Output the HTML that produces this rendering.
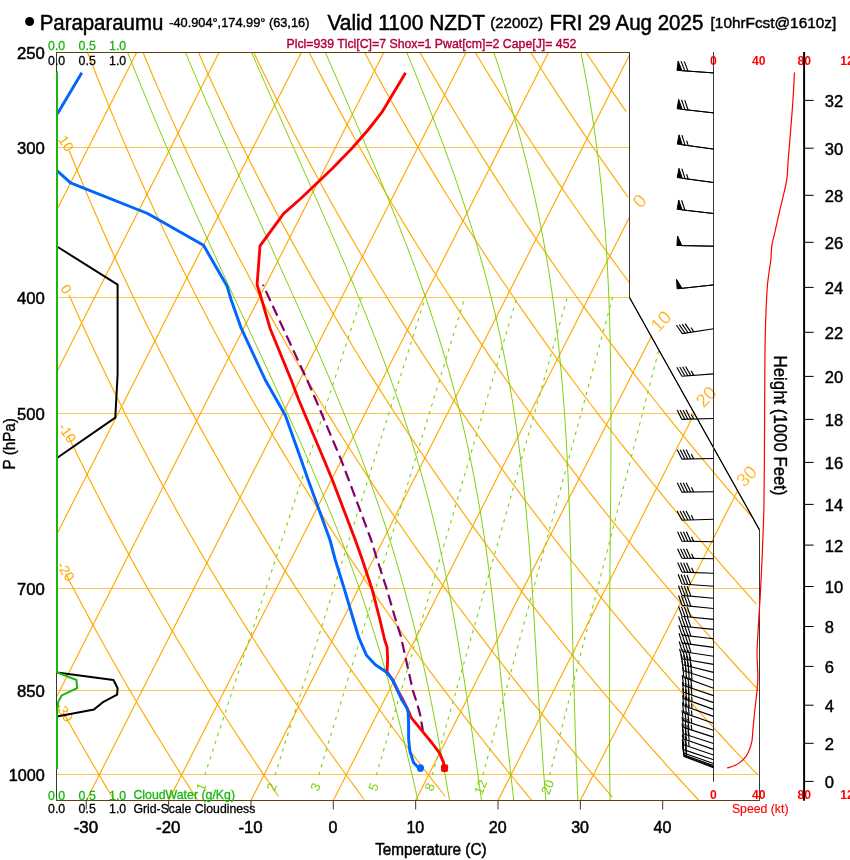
<!DOCTYPE html>
<html lang="en"><head><meta charset="utf-8"><title>Paraparaumu SkewT</title>
<style>
html,body{margin:0;padding:0;background:#fff;overflow:hidden}
svg{display:block}
text{font-family:"Liberation Sans", sans-serif}
.thin{stroke:#fff;stroke-width:.2px;paint-order:fill stroke}
.thin2{stroke:#fff;stroke-width:.3px;paint-order:fill stroke}
</style>
</head><body>
<svg width="850" height="860" viewBox="0 0 850 860">
<defs><clipPath id="plotclip"><polygon points="56.5,52.5 629.5,52.5 629.5,297.48 759.5,529.89 759.5,800.5 56.5,800.5"/></clipPath><clipPath id="plotclip2"><polygon points="56,52.5 629.5,52.5 629.5,297.48 759.5,529.89 759.5,800.5 56,800.5"/></clipPath></defs>
<rect width="850" height="860" fill="#fff"/>
<g id="bg" clip-path="url(#plotclip)">
<line x1="57.64" y1="208.15" x2="147.47" y2="31.22" stroke="#FFAA00" stroke-width="1.15" />
<line x1="53.65" y1="378.2" x2="229.82" y2="31.22" stroke="#FFAA00" stroke-width="1.15" />
<line x1="49.31" y1="548.93" x2="312.17" y2="31.22" stroke="#FFAA00" stroke-width="1.15" />
<line x1="44.72" y1="720.15" x2="394.52" y2="31.22" stroke="#FFAA00" stroke-width="1.15" />
<line x1="86.27" y1="800.5" x2="476.86" y2="31.22" stroke="#FFAA00" stroke-width="1.15" />
<line x1="168.62" y1="800.5" x2="559.21" y2="31.22" stroke="#FFAA00" stroke-width="1.15" />
<line x1="250.97" y1="800.5" x2="629.7" y2="54.58" stroke="#FFAA00" stroke-width="1.15" />
<line x1="333.31" y1="800.5" x2="630.17" y2="215.83" stroke="#FFAA00" stroke-width="1.15" />
<line x1="415.66" y1="800.5" x2="651.92" y2="335.17" stroke="#FFAA00" stroke-width="1.15" />
<line x1="498.01" y1="800.5" x2="694.36" y2="413.78" stroke="#FFAA00" stroke-width="1.15" />
<line x1="580.36" y1="800.5" x2="737.43" y2="491.14" stroke="#FFAA00" stroke-width="1.15" />
<line x1="56.5" y1="774.5" x2="759.5" y2="774.5" stroke="#FFAA00" stroke-width="0.7" />
<line x1="56.5" y1="690.5" x2="759.5" y2="690.5" stroke="#FFAA00" stroke-width="0.7" />
<line x1="56.5" y1="588.5" x2="759.5" y2="588.5" stroke="#FFAA00" stroke-width="0.7" />
<line x1="56.5" y1="413.5" x2="694.38" y2="413.5" stroke="#FFAA00" stroke-width="0.7" />
<line x1="56.5" y1="297.5" x2="629.88" y2="297.5" stroke="#FFAA00" stroke-width="0.7" />
<line x1="56.5" y1="147.5" x2="629.88" y2="147.5" stroke="#FFAA00" stroke-width="0.7" />
<polyline points="64.39,714.33 67.63,720.15 70.86,725.91 74.07,731.61 77.26,737.24 80.44,742.82 83.6,748.33 86.75,753.79 89.88,759.19 93,764.54 96.1,769.83 99.18,775.07 102.26,780.26 105.32,785.39 108.36,790.48 111.39,795.51 114.41,800.5" fill="none" stroke="#FFAA00" stroke-width="1.15" />
<polyline points="65.89,574.05 69.84,581.66 73.76,589.16 77.66,596.56 81.53,603.85 85.38,611.03 89.21,618.13 93.02,625.12 96.8,632.03 100.56,638.84 104.29,645.57 108.01,652.21 111.7,658.76 115.38,665.24 119.03,671.63 122.66,677.95 126.27,684.19 129.86,690.36 133.44,696.46 136.99,702.48 140.52,708.44 144.04,714.33 147.54,720.15 151.01,725.91 154.47,731.61 157.92,737.24 161.34,742.82 164.75,748.33 168.14,753.79 171.51,759.19 174.87,764.54 178.21,769.83 181.53,775.07 184.84,780.26 188.13,785.39 191.41,790.48 194.67,795.51 197.91,800.5" fill="none" stroke="#FFAA00" stroke-width="1.15" />
<polyline points="68.26,436.23 73.03,446.12 77.77,455.83 82.46,465.35 87.12,474.71 91.75,483.91 96.34,492.94 100.9,501.82 105.42,510.55 109.91,519.14 114.37,527.58 118.8,535.9 123.2,544.08 127.57,552.14 131.9,560.07 136.21,567.88 140.49,575.58 144.74,583.17 148.96,590.65 153.16,598.02 157.33,605.29 161.47,612.46 165.58,619.53 169.67,626.51 173.74,633.4 177.78,640.19 181.79,646.9 185.78,653.52 189.75,660.06 193.69,666.52 197.61,672.9 201.51,679.2 205.39,685.43 209.24,691.59 213.07,697.67 216.88,703.68 220.67,709.62 224.44,715.5 228.19,721.31 231.91,727.06 235.62,732.74 239.31,738.36 242.98,743.93 246.62,749.43 250.25,754.88 253.87,760.27 257.46,765.6 261.03,770.88 264.59,776.11 268.13,781.29 271.65,786.41 275.15,791.49 278.64,796.51" fill="none" stroke="#FFAA00" stroke-width="1.15" />
<polyline points="69.02,294.86 74.76,307.8 80.45,320.42 86.08,332.74 91.67,344.78 97.2,356.55 102.68,368.05 108.11,379.31 113.5,390.33 118.83,401.12 124.12,411.7 129.37,422.06 134.57,432.22 139.73,442.19 144.85,451.96 149.92,461.56 154.96,470.99 159.95,480.25 164.91,489.34 169.82,498.28 174.7,507.07 179.55,515.72 184.35,524.22 189.12,532.59 193.86,540.82 198.56,548.93 203.23,556.91 207.86,564.77 212.47,572.52 217.04,580.15 221.58,587.67 226.09,595.09 230.57,602.4 235.02,609.6 239.44,616.72 243.83,623.73 248.19,630.65 252.52,637.48 256.83,644.23 261.11,650.88 265.37,657.46 269.6,663.95 273.8,670.36 277.98,676.69 282.13,682.95 286.26,689.13 290.36,695.24 294.44,701.28 298.5,707.25 302.53,713.16 306.54,718.99 310.53,724.77 314.5,730.47 318.44,736.12 322.36,741.71 326.27,747.24 330.15,752.71 334.01,758.12 337.85,763.47 341.67,768.78 345.47,774.03 349.25,779.22 353.01,784.37 356.75,789.46 360.48,794.51 364.18,799.51" fill="none" stroke="#FFAA00" stroke-width="1.15" />
<polyline points="69.35,150.99 76.22,167.97 83.02,184.42 89.74,200.36 96.39,215.83 102.96,230.85 109.46,245.45 115.89,259.65 122.25,273.48 128.55,286.95 134.78,300.08 140.95,312.88 147.05,325.38 153.1,337.59 159.08,349.52 165.01,361.18 170.89,372.59 176.71,383.75 182.47,394.67 188.18,405.38 193.84,415.87 199.45,426.15 205.02,436.23 210.53,446.12 216,455.83 221.42,465.35 226.79,474.71 232.13,483.91 237.41,492.94 242.66,501.82 247.87,510.55 253.03,519.14 258.16,527.58 263.24,535.9 268.29,544.08 273.3,552.14 278.27,560.07 283.21,567.88 288.11,575.58 292.98,583.17 297.81,590.65 302.61,598.02 307.37,605.29 312.1,612.46 316.81,619.53 321.48,626.51 326.11,633.4 330.72,640.19 335.3,646.9 339.85,653.52 344.37,660.06 348.87,666.52 353.33,672.9 357.77,679.2 362.18,685.43 366.56,691.59 370.92,697.67 375.25,703.68 379.56,709.62 383.84,715.5 388.09,721.31 392.33,727.06 396.53,732.74 400.72,738.36 404.88,743.93 409.02,749.43 413.13,754.88 417.23,760.27 421.3,765.6 425.35,770.88 429.38,776.11 433.38,781.29 437.37,786.41 441.34,791.49 445.28,796.51" fill="none" stroke="#FFAA00" stroke-width="1.15" />
<polyline points="71.45,9.04 79.61,31.22 87.65,52.5 95.59,72.94 103.42,92.61 111.15,111.57 118.79,129.86 126.32,147.53 133.76,164.62 141.11,181.17 148.37,197.21 155.55,212.77 162.64,227.88 169.65,242.56 176.57,256.84 183.42,270.74 190.2,284.28 196.9,297.48 203.53,310.35 210.09,322.91 216.58,335.17 223.01,347.15 229.37,358.87 235.66,370.32 241.9,381.53 248.08,392.51 254.19,403.25 260.25,413.78 266.26,424.11 272.21,434.23 278.1,444.16 283.95,453.9 289.74,463.46 295.49,472.85 301.18,482.08 306.83,491.14 312.43,500.05 317.98,508.82 323.49,517.43 328.96,525.91 334.38,534.25 339.76,542.45 345.1,550.54 350.4,558.49 355.66,566.33 360.88,574.05 366.06,581.66 371.21,589.16 376.31,596.56 381.38,603.85 386.42,611.03 391.42,618.13 396.39,625.12 401.32,632.03 406.22,638.84 411.09,645.57 415.92,652.21 420.73,658.76 425.5,665.24 430.24,671.63 434.96,677.95 439.64,684.19 444.29,690.36 448.92,696.46 453.52,702.48 458.09,708.44 462.63,714.33 467.15,720.15 471.64,725.91 476.1,731.61 480.54,737.24 484.95,742.82 489.34,748.33 493.7,753.79 498.04,759.19 502.36,764.54 506.65,769.83 510.92,775.07 515.17,780.26 519.39,785.39 523.59,790.48 527.77,795.51 531.93,800.5" fill="none" stroke="#FFAA00" stroke-width="1.15" />
<polyline points="128.2,15.79 136.98,37.7 145.63,58.72 154.15,78.92 162.56,98.37 170.85,117.12 179.02,135.22 187.09,152.72 195.05,169.64 202.91,186.03 210.66,201.93 218.32,217.35 225.89,232.33 233.36,246.89 240.75,261.05 248.05,274.84 255.26,288.27 262.39,301.37 269.45,314.15 276.43,326.62 283.33,338.8 290.16,350.7 296.92,362.33 303.61,373.71 310.23,384.85 316.79,395.75 323.28,406.44 329.72,416.9 336.09,427.16 342.4,437.23 348.65,447.1 354.84,456.79 360.98,466.3 367.07,475.64 373.1,484.82 379.08,493.83 385.01,502.7 390.9,511.41 396.73,519.99 402.51,528.42 408.25,536.72 413.94,544.89 419.59,552.94 425.2,560.86 430.76,568.66 436.28,576.35 441.76,583.92 447.19,591.39 452.59,598.75 457.95,606.01 463.27,613.17 468.55,620.24 473.8,627.2 479.01,634.08 484.19,640.87 489.32,647.57 494.43,654.18 499.5,660.71 504.54,667.16 509.54,673.54 514.52,679.83 519.46,686.05 524.37,692.2 529.25,698.27 534.1,704.28 538.92,710.21 543.71,716.08 548.48,721.89 553.21,727.63 557.92,733.31 562.6,738.92 567.25,744.48 571.87,749.98 576.47,755.42 581.05,760.8 585.59,766.13 590.12,771.41 594.61,776.63 599.09,781.8 603.54,786.92 607.96,791.99 612.37,797.01" fill="none" stroke="#FFAA00" stroke-width="1.15" />
<polyline points="188.17,29.05 197.51,50.41 206.71,70.93 215.78,90.68 224.71,109.7 233.5,128.06 242.18,145.79 250.73,162.94 259.17,179.54 267.49,195.63 275.7,211.23 283.81,226.39 291.82,241.11 299.72,255.43 307.53,269.37 315.24,282.94 322.87,296.17 330.4,309.07 337.86,321.67 345.22,333.96 352.51,345.97 359.72,357.71 366.85,369.19 373.91,380.42 380.89,391.42 387.81,402.19 394.65,412.74 401.43,423.08 408.14,433.22 414.79,443.17 421.38,452.93 427.9,462.51 434.37,471.92 440.78,481.16 447.13,490.25 453.43,499.17 459.67,507.95 465.86,516.58 472,525.06 478.08,533.42 484.12,541.64 490.11,549.73 496.05,557.7 501.94,565.55 507.79,573.29 513.59,580.91 519.35,588.42 525.07,595.82 530.74,603.12 536.38,610.32 541.97,617.42 547.52,624.43 553.03,631.34 558.51,638.16 563.94,644.9 569.34,651.55 574.7,658.11 580.03,664.59 585.32,671 590.58,677.32 595.8,683.57 600.99,689.75 606.15,695.85 611.27,701.88 616.36,707.85 621.42,713.74 626.45,719.57 631.45,725.34 636.42,731.04 641.36,736.68 646.27,742.26 651.15,747.79 656,753.25 660.83,758.66 665.63,764.01 670.4,769.3 675.14,774.55 679.86,779.74 684.55,784.88 689.22,789.97 693.86,795.01 698.48,800" fill="none" stroke="#FFAA00" stroke-width="1.15" />
<polyline points="233.72,9.04 243.86,31.22 253.83,52.5 263.64,72.94 273.3,92.61 282.81,111.57 292.17,129.86 301.4,147.53 310.49,164.62 319.45,181.17 328.29,197.21 337,212.77 345.6,227.88 354.09,242.56 362.47,256.84 370.75,270.74 378.92,284.28 386.99,297.48 394.97,310.35 402.85,322.91 410.64,335.17 418.35,347.15 425.97,358.87 433.51,370.32 440.96,381.53 448.34,392.51 455.64,403.25 462.87,413.78 470.03,424.11 477.11,434.23 484.13,444.16 491.07,453.9 497.96,463.46 504.78,472.85 511.53,482.08 518.23,491.14 524.87,500.05 531.44,508.82 537.97,517.43 544.43,525.91 550.84,534.25 557.2,542.45 563.51,550.54 569.76,558.49 575.97,566.33 582.12,574.05 588.23,581.66 594.29,589.16 600.3,596.56 606.27,603.85 612.2,611.03 618.08,618.13 623.92,625.12 629.71,632.03 635.47,638.84 641.18,645.57 646.86,652.21 652.49,658.76 658.09,665.24 663.65,671.63 669.18,677.95 674.66,684.19 680.11,690.36 685.53,696.46 690.91,702.48 696.26,708.44 701.57,714.33 706.85,720.15 712.1,725.91 717.32,731.61 722.51,737.24 727.66,742.82 732.78,748.33 737.88,753.79 742.94,759.19 747.98,764.54 752.98,769.83 757.96,775.07" fill="none" stroke="#FFAA00" stroke-width="1.15" />
<polyline points="287.8,9.04 298.61,31.22 309.23,52.5 319.66,72.94 329.93,92.61 340.03,111.57 349.97,129.86 359.76,147.53 369.4,164.62 378.9,181.17 388.26,197.21 397.49,212.77 406.59,227.88 415.57,242.56 424.44,256.84 433.19,270.74 441.82,284.28 450.35,297.48 458.78,310.35 467.1,322.91 475.33,335.17 483.46,347.15 491.5,358.87 499.45,370.32 507.32,381.53 515.1,392.51 522.79,403.25 530.41,413.78 537.95,424.11 545.41,434.23 552.8,444.16 560.12,453.9 567.36,463.46 574.54,472.85 581.65,482.08 588.7,491.14 595.68,500.05 602.6,508.82 609.46,517.43 616.26,525.91 623,534.25 629.68,542.45 636.31,550.54 642.88,558.49 649.4,566.33 655.87,574.05 662.28,581.66 668.65,589.16 674.97,596.56 681.23,603.85 687.46,611.03 693.63,618.13 699.76,625.12 705.84,632.03 711.88,638.84 717.88,645.57 723.84,652.21 729.75,658.76 735.62,665.24 741.46,671.63 747.25,677.95 753.01,684.19 758.72,690.36" fill="none" stroke="#FFAA00" stroke-width="1.15" />
<polyline points="341.89,9.04 353.36,31.22 364.62,52.5 375.68,72.94 386.55,92.61 397.25,111.57 407.76,129.86 418.12,147.53 428.31,164.62 438.34,181.17 448.23,197.21 457.98,212.77 467.58,227.88 477.06,242.56 486.4,256.84 495.63,270.74 504.73,284.28 513.72,297.48 522.59,310.35 531.36,322.91 540.02,335.17 548.58,347.15 557.04,358.87 565.4,370.32 573.67,381.53 581.85,392.51 589.94,403.25 597.95,413.78 605.87,424.11 613.71,434.23 621.47,444.16 629.16,453.9 636.77,463.46 644.3,472.85 651.77,482.08 659.16,491.14 666.49,500.05 673.75,508.82 680.95,517.43 688.08,525.91 695.15,534.25 702.16,542.45 709.11,550.54 716,558.49 722.84,566.33 729.62,574.05 736.34,581.66 743.01,589.16 749.63,596.56 756.2,603.85" fill="none" stroke="#FFAA00" stroke-width="1.15" />
<polyline points="395.98,9.04 408.11,31.22 420.01,52.5 431.7,72.94 443.18,92.61 454.46,111.57 465.56,129.86 476.47,147.53 487.21,164.62 497.79,181.17 508.2,197.21 518.46,212.77 528.57,227.88 538.54,242.56 548.37,256.84 558.07,270.74 567.63,284.28 577.08,297.48 586.4,310.35 595.61,322.91 604.71,335.17 613.69,347.15 622.57,358.87 631.35,370.32 640.02,381.53 648.61,392.51 657.09,403.25 665.49,413.78 673.79,424.11 682.01,434.23 690.15,444.16 698.2,453.9 706.17,463.46 714.07,472.85 721.89,482.08 729.63,491.14 737.3,500.05 744.91,508.82 752.44,517.43" fill="none" stroke="#FFAA00" stroke-width="1.15" />
<polyline points="450.07,9.04 462.86,31.22 475.41,52.5 487.72,72.94 499.81,92.61 511.68,111.57 523.36,129.86 534.83,147.53 546.12,164.62 557.23,181.17 568.17,197.21 578.95,212.77 589.56,227.88 600.02,242.56 610.34,256.84 620.51,270.74 630.54,284.28" fill="none" stroke="#FFAA00" stroke-width="1.15" />
<polyline points="504.16,9.04 517.61,31.22 530.8,52.5 543.74,72.94 556.43,92.61 568.9,111.57 581.15,129.86 593.19,147.53 605.03,164.62 616.68,181.17 628.14,197.21" fill="none" stroke="#FFAA00" stroke-width="1.15" />
<polyline points="558.24,9.04 572.36,31.22 586.19,52.5 599.75,72.94 613.06,92.61 626.12,111.57" fill="none" stroke="#FFAA00" stroke-width="1.15" />
<polyline points="612.33,9.04 627.11,31.22" fill="none" stroke="#FFAA00" stroke-width="1.15" />
<polyline points="610.13,800.5 610.04,795.51 609.95,790.48 609.87,785.39 609.8,780.26 609.74,775.07 609.68,769.83 609.62,764.54 609.58,759.19 609.53,753.79 609.49,748.33 609.45,742.82 609.45,737.24 609.43,731.61 609.41,725.91 609.41,720.15 609.4,714.33 609.4,708.44 609.41,702.48 609.41,696.46 609.43,690.36 609.44,684.19 609.46,677.95 609.49,671.63 609.51,665.24 609.54,658.76 609.57,652.21 609.6,645.57 609.63,638.84 609.66,632.03 609.69,625.12 609.72,618.13 609.75,611.03 609.81,603.85 609.84,596.56 609.87,589.16 609.89,581.66 609.94,574.05 610,566.33 610.07,558.49 610.14,550.54 610.21,542.45 610.29,534.25 610.37,525.91 610.46,517.43 610.54,508.82 610.62,500.05 610.7,491.14 610.78,482.08 610.85,472.85 610.92,463.46 610.94,453.9 610.98,444.16 611,434.23 611.01,424.11 611,413.78 610.96,403.25 610.9,392.51 610.81,381.53 610.68,370.32 610.51,358.87 610.3,347.15 610.03,335.17 609.7,322.91 609.31,310.35 608.83,297.48 608.27,284.28 607.61,270.74 606.84,256.84 605.99,242.56 604.96,227.88 603.64,212.77 602.31,197.21 600.72,181.17 598.88,164.62 596.79,147.53 594.39,129.86 591.65,111.57 588.52,92.61 584.94,72.94 580.92,52.5 576.32,31.22" fill="none" stroke="#7FD00A" stroke-width="1.0" />
<polyline points="577.89,800.5 577.66,795.51 577.44,790.48 577.22,785.39 577,780.26 576.8,775.07 576.6,769.83 576.4,764.54 576.2,759.19 576.01,753.79 575.81,748.33 575.62,742.82 575.46,737.24 575.29,731.61 575.11,725.91 574.94,720.15 574.76,714.33 574.59,708.44 574.42,702.48 574.25,696.46 574.07,690.36 573.9,684.19 573.72,677.95 573.54,671.63 573.36,665.24 573.17,658.76 572.97,652.21 572.81,645.57 572.64,638.84 572.47,632.03 572.3,625.12 572.18,618.13 572.02,611.03 571.86,603.85 571.7,596.56 571.53,589.16 571.35,581.66 571.17,574.05 570.99,566.33 570.79,558.49 570.58,550.54 570.36,542.45 570.13,534.25 569.87,525.91 569.61,517.43 569.32,508.82 569,500.05 568.66,491.14 568.3,482.08 567.9,472.85 567.46,463.46 566.98,453.9 566.46,444.16 565.84,434.23 565.22,424.11 564.53,413.78 563.77,403.25 562.94,392.51 562.04,381.53 561.04,370.32 559.95,358.87 558.81,347.15 557.49,335.17 556.04,322.91 554.44,310.35 552.66,297.48 550.77,284.28 548.66,270.74 546.36,256.84 543.83,242.56 541.06,227.88 538.03,212.77 534.71,197.21 531.06,181.17 527.07,164.62 522.68,147.53 517.87,129.86 512.63,111.57 506.9,92.61 500.66,72.94 493.86,52.5 486.48,31.22" fill="none" stroke="#7FD00A" stroke-width="1.0" />
<polyline points="545.82,800.5 545.42,795.51 545.02,790.48 544.63,785.39 544.24,780.26 543.86,775.07 543.48,769.83 543.09,764.54 542.71,759.19 542.32,753.79 541.93,748.33 541.57,742.82 541.19,737.24 540.8,731.61 540.42,725.91 540.02,720.15 539.65,714.33 539.29,708.44 538.93,702.48 538.57,696.46 538.21,690.36 537.85,684.19 537.49,677.95 537.12,671.63 536.76,665.24 536.39,658.76 536.01,652.21 535.63,645.57 535.23,638.84 534.83,632.03 534.46,625.12 534.04,618.13 533.61,611.03 533.17,603.85 532.71,596.56 532.23,589.16 531.74,581.66 531.22,574.05 530.67,566.33 530.1,558.49 529.5,550.54 528.87,542.45 528.2,534.25 527.49,525.91 526.74,517.43 525.94,508.82 525.1,500.05 524.2,491.14 523.24,482.08 522.21,472.85 521.12,463.46 519.95,453.9 518.7,444.16 517.36,434.23 515.93,424.11 514.39,413.78 512.74,403.25 510.96,392.51 509.06,381.53 507,370.32 504.82,358.87 502.47,347.15 499.94,335.17 497.22,322.91 494.3,310.35 491.17,297.48 487.8,284.28 484.19,270.74 480.31,256.84 476.15,242.56 471.69,227.88 466.9,212.77 461.78,197.21 456.3,181.17 450.48,164.62 444.25,147.53 437.62,129.86 430.57,111.57 423.08,92.61 415.14,72.94 406.74,52.5 397.87,31.22" fill="none" stroke="#7FD00A" stroke-width="1.0" />
<polyline points="513.73,800.5 513.18,795.51 512.63,790.48 512.07,785.39 511.5,780.26 510.92,775.07 510.34,769.83 509.75,764.54 509.17,759.19 508.6,753.79 508.02,748.33 507.44,742.82 506.85,737.24 506.31,731.61 505.73,725.91 505.16,720.15 504.58,714.33 503.99,708.44 503.41,702.48 502.81,696.46 502.21,690.36 501.6,684.19 500.98,677.95 500.35,671.63 499.71,665.24 499.06,658.76 498.38,652.21 497.69,645.57 496.98,638.84 496.25,632.03 495.49,625.12 494.71,618.13 493.95,611.03 493.12,603.85 492.26,596.56 491.36,589.16 490.43,581.66 489.45,574.05 488.43,566.33 487.37,558.49 486.25,550.54 485.08,542.45 483.85,534.25 482.56,525.91 481.2,517.43 479.77,508.82 478.26,500.05 476.67,491.14 474.99,482.08 473.22,472.85 471.32,463.46 469.35,453.9 467.27,444.16 465.03,434.23 462.68,424.11 460.19,413.78 457.55,403.25 454.76,392.51 451.8,381.53 448.67,370.32 445.35,358.87 441.84,347.15 438.12,335.17 434.19,322.91 430.03,310.35 425.64,297.48 421,284.28 416.1,270.74 410.94,256.84 405.5,242.56 399.77,227.88 393.75,212.77 387.48,197.21 380.87,181.17 373.94,164.62 366.69,147.53 359.11,129.86 351.2,111.57 342.94,92.61 334.35,72.94 325.39,52.5 316.09,31.22" fill="none" stroke="#7FD00A" stroke-width="1.0" />
<polyline points="481.49,800.5 480.8,795.51 480.1,790.48 479.4,785.39 478.69,780.26 477.98,775.07 477.26,769.83 476.54,764.54 475.8,759.19 475.06,753.79 474.29,748.33 473.52,742.82 472.77,737.24 471.97,731.61 471.16,725.91 470.31,720.15 469.44,714.33 468.56,708.44 467.66,702.48 466.75,696.46 465.82,690.36 464.88,684.19 463.91,677.95 462.92,671.63 461.91,665.24 460.87,658.76 459.81,652.21 458.72,645.57 457.59,638.84 456.43,632.03 455.23,625.12 454,618.13 452.72,611.03 451.39,603.85 450.02,596.56 448.6,589.16 447.12,581.66 445.59,574.05 443.99,566.33 442.33,558.49 440.6,550.54 438.79,542.45 436.9,534.25 434.93,525.91 432.87,517.43 430.71,508.82 428.45,500.05 426.09,491.14 423.62,482.08 421.04,472.85 418.33,463.46 415.49,453.9 412.52,444.16 409.41,434.23 406.15,424.11 402.74,413.78 399.17,403.25 395.43,392.51 391.52,381.53 387.43,370.32 383.16,358.87 378.69,347.15 374.03,335.17 369.17,322.91 364.1,310.35 358.82,297.48 353.32,284.28 347.6,270.74 341.66,256.84 335.48,242.56 329.08,227.88 322.43,212.77 315.55,197.21 308.43,181.17 301.12,164.62 293.51,147.53 285.64,129.86 277.52,111.57 269.14,92.61 260.5,72.94 251.59,52.5 242.42,31.22" fill="none" stroke="#7FD00A" stroke-width="1.0" />
<polyline points="449.61,800.5 448.71,795.51 447.8,790.48 446.89,785.39 445.97,780.26 445.04,775.07 444.1,769.83 443.14,764.54 442.16,759.19 441.17,753.79 440.15,748.33 439.15,742.82 438.1,737.24 437.04,731.61 435.95,725.91 434.84,720.15 433.7,714.33 432.54,708.44 431.34,702.48 430.12,696.46 428.86,690.36 427.56,684.19 426.23,677.95 424.85,671.63 423.43,665.24 421.96,658.76 420.42,652.21 418.84,645.57 417.21,638.84 415.54,632.03 413.81,625.12 412.04,618.13 410.21,611.03 408.31,603.85 406.36,596.56 404.34,589.16 402.25,581.66 400.08,574.05 397.84,566.33 395.52,558.49 393.11,550.54 390.6,542.45 388.04,534.25 385.35,525.91 382.57,517.43 379.69,508.82 376.69,500.05 373.58,491.14 370.36,482.08 367.01,472.85 363.54,463.46 359.94,453.9 356.21,444.16 352.34,434.23 348.32,424.11 344.17,413.78 339.86,403.25 335.41,392.51 330.8,381.53 326.03,370.32 321.1,358.87 316.02,347.15 310.76,335.17 305.34,322.91 299.74,310.35 293.98,297.48 288.04,284.28 281.93,270.74 275.63,256.84 269.16,242.56 262.5,227.88 255.66,212.77 248.64,197.21 241.43,181.17 234.02,164.62 226.43,147.53 218.64,129.86 210.65,111.57 202.47,92.61 194.08,72.94 185.5,52.5 176.72,31.22" fill="none" stroke="#7FD00A" stroke-width="1.0" />
<polyline points="417.91,800.5 416.78,795.51 415.63,790.48 414.47,785.39 413.3,780.26 412.1,775.07 410.89,769.83 409.65,764.54 408.38,759.19 407.08,753.79 405.76,748.33 404.44,742.82 403.08,737.24 401.68,731.61 400.25,725.91 398.78,720.15 397.29,714.33 395.75,708.44 394.18,702.48 392.57,696.46 390.91,690.36 389.22,684.19 387.47,677.95 385.68,671.63 383.84,665.24 381.94,658.76 380,652.21 377.99,645.57 375.92,638.84 373.79,632.03 371.6,625.12 369.34,618.13 367,611.03 364.59,603.85 362.11,596.56 359.55,589.16 356.9,581.66 354.17,574.05 351.35,566.33 348.47,558.49 345.47,550.54 342.35,542.45 339.13,534.25 335.82,525.91 332.41,517.43 328.89,508.82 325.28,500.05 321.55,491.14 317.72,482.08 313.78,472.85 309.72,463.46 305.55,453.9 301.27,444.16 296.86,434.23 292.33,424.11 287.69,413.78 282.91,403.25 278.01,392.51 272.99,381.53 267.84,370.32 262.55,358.87 257.14,347.15 251.59,335.17 245.91,322.91 240.1,310.35 234.15,297.48 228.06,284.28 221.83,270.74 215.47,256.84 208.96,242.56 202.31,227.88 195.51,212.77 188.57,197.21 181.48,181.17 174.25,164.62 166.86,147.53 159.32,129.86 151.64,111.57 143.8,92.61 135.8,72.94 127.66,52.5 119.36,31.22" fill="none" stroke="#7FD00A" stroke-width="1.0" />
</g>
<line x1="549.67" y1="775.07" x2="659.48" y2="347.15" stroke="#7FD00A" stroke-width="1.1" stroke-dasharray="3.4 4.8"/>
<line x1="482.91" y1="775.07" x2="612.54" y2="297.48" stroke="#7FD00A" stroke-width="1.1" stroke-dasharray="3.4 4.8"/>
<line x1="432.32" y1="775.07" x2="567.18" y2="297.48" stroke="#7FD00A" stroke-width="1.1" stroke-dasharray="3.4 4.8"/>
<line x1="376.34" y1="775.07" x2="516.84" y2="297.48" stroke="#7FD00A" stroke-width="1.1" stroke-dasharray="3.4 4.8"/>
<line x1="318.64" y1="775.07" x2="464.78" y2="297.48" stroke="#7FD00A" stroke-width="1.1" stroke-dasharray="3.4 4.8"/>
<line x1="275.05" y1="775.07" x2="425.33" y2="297.48" stroke="#7FD00A" stroke-width="1.1" stroke-dasharray="3.4 4.8"/>
<line x1="204.76" y1="775.07" x2="361.49" y2="297.48" stroke="#7FD00A" stroke-width="1.1" stroke-dasharray="3.4 4.8"/>
<polygon points="56.5,52.5 629.5,52.5 629.5,297.48 759.5,529.89 759.5,800.5 56.5,800.5" fill="none" stroke="#383838" stroke-width="1"/>
<line x1="629.5" y1="297.48" x2="759.5" y2="529.89" stroke="#000" stroke-width="1.15" />
<line x1="56" y1="52.5" x2="630" y2="52.5" stroke="#5e400c" stroke-width="1" />
<line x1="56" y1="800.5" x2="760" y2="800.5" stroke="#5e400c" stroke-width="1" />
<g id="bglabels">
<text transform="translate(66.3 143.4) rotate(57)" font-size="14" fill="#FFAA00" text-anchor="middle" dominant-baseline="central" >10</text>
<text transform="translate(66.3 289) rotate(57)" font-size="14" fill="#FFAA00" text-anchor="middle" dominant-baseline="central" >0</text>
<text transform="translate(67.4 432.8) rotate(57)" font-size="14" fill="#FFAA00" text-anchor="middle" dominant-baseline="central" >-10</text>
<text transform="translate(65.9 571.3) rotate(57)" font-size="14" fill="#FFAA00" text-anchor="middle" dominant-baseline="central" >-20</text>
<text transform="translate(64.4 711.8) rotate(57)" font-size="14" fill="#FFAA00" text-anchor="middle" dominant-baseline="central" >-30</text>
<text transform="translate(639.4 200.8) rotate(-47)" font-size="18.5" fill="#FFAA00" text-anchor="middle" dominant-baseline="central" class="thin2">0</text>
<text transform="translate(660.8 321) rotate(-47)" font-size="18.5" fill="#FFAA00" text-anchor="middle" dominant-baseline="central" class="thin2">10</text>
<text transform="translate(706 396.5) rotate(-47)" font-size="18.5" fill="#FFAA00" text-anchor="middle" dominant-baseline="central" class="thin2">20</text>
<text transform="translate(746.5 476) rotate(-47)" font-size="18.5" fill="#FFAA00" text-anchor="middle" dominant-baseline="central" class="thin2">30</text>
<text transform="translate(547.52 787) rotate(-68)" font-size="13" fill="#7FD00A" text-anchor="middle" dominant-baseline="central" >20</text>
<text transform="translate(480.46 787) rotate(-68)" font-size="13" fill="#7FD00A" text-anchor="middle" dominant-baseline="central" >12</text>
<text transform="translate(429.65 787) rotate(-68)" font-size="13" fill="#7FD00A" text-anchor="middle" dominant-baseline="central" >8</text>
<text transform="translate(373.43 787) rotate(-68)" font-size="13" fill="#7FD00A" text-anchor="middle" dominant-baseline="central" >5</text>
<text transform="translate(315.48 787) rotate(-68)" font-size="13" fill="#7FD00A" text-anchor="middle" dominant-baseline="central" >3</text>
<text transform="translate(271.72 787) rotate(-68)" font-size="13" fill="#7FD00A" text-anchor="middle" dominant-baseline="central" >2</text>
<text transform="translate(201.15 787) rotate(-68)" font-size="13" fill="#7FD00A" text-anchor="middle" dominant-baseline="central" >1</text>
</g>
<g id="sounding" clip-path="url(#plotclip2)" stroke-linejoin="round" stroke-linecap="butt">
<polyline points="262.9,284.7 270,300 307.1,380 315.9,400 341.2,460 348.8,480 371.2,540 376.5,557.6 386.5,588.2 397.1,624.7 400.6,635.3 412.9,690.6 417.1,703.5 420,714.1 422.9,730.6" fill="none" stroke="#82006A" stroke-width="2.2" stroke-dasharray="11.1 5.3" stroke-dashoffset="9.6" stroke-linecap="butt"/>
<polyline points="405.6,72.7 381.8,112.4 368,130 352.7,147.5 332.1,168.7 300,199.3 283.6,213.6 260,245.9 257.1,284.7 261.8,300 270,328.2 291.2,380 298.8,400 324.1,460 332.4,480 355.3,540 362.4,560 371.8,588.2 380,620 384.7,640 387.1,647.1 387.6,658.8 387.1,671.8 392.5,680 397.5,690 403,700 408.8,711.8 411.2,717.6 422.9,731.8 432.4,743.5 439.4,752.9 443.5,762.4 444.5,768.2" fill="none" stroke="#FF0000" stroke-width="2.85" />
<polyline points="81.8,72.7 58.2,112.4 33.2,149.2 70.6,182.9 147.6,213.5 203.5,245.3 227,285.9 231.2,300 241.2,328.2 265.3,380 285.3,415.3 301.2,460 308.2,480 330,540 335.3,560 344.1,588.2 353.5,620 358.8,637.6 366.5,655.3 375.3,664.7 385.9,671.8 392.9,680 397.6,690.6 401.8,700 407.1,708.2 408.2,712.9 408.6,723.5 408.6,738.8 410,751.8 413.5,762.4 418.2,767.6 420.4,768.2" fill="none" stroke="#0066FF" stroke-width="2.95" />
<rect x="441" y="764.3" width="7.1" height="7.7" rx="2" ry="2" fill="#FF0000"/>
<ellipse cx="420.45" cy="768.1" rx="3.6" ry="3.9" fill="#0066FF"/>
</g>
<polyline points="57,71.8 57,246.5 117.6,284.7 117.6,374.6 115.3,417.6 57,458 57,672.4 113.5,680 117.6,688.2 117.1,694.7 103.5,701.8 94.1,709.4 57,716.5 57,769" fill="none" stroke="#000" stroke-width="2" stroke-linejoin="round"/>
<polyline points="57,71.8 57,672.4 76.5,680 77.1,688.2 61.8,695.3 58.2,701.8 57.3,711 57,716.5 57,769" fill="none" stroke="#18B60E" stroke-width="2" stroke-linejoin="round"/>
<line x1="713.5" y1="52" x2="713.5" y2="781.8" stroke="#383838" stroke-width="1" />
<g id="barbs" stroke="#000" stroke-width="1.15" fill="#000" stroke-linecap="butt">
<path d="M713.5 72.9L676.99 70.35L678.15 60.95L681.98 70.7Z" stroke-width="1"/>
<path d="M684.85 70.9L681.02 61.16M688.04 71.12L684.21 61.38" fill="none"/>
<path d="M713.5 112.9L677.14 108.76L678.7 99.42L682.1 109.32Z" stroke-width="1"/>
<path d="M684.96 109.65L681.56 99.75M688.14 110.01L684.74 100.11" fill="none"/>
<path d="M713.5 149.1L677.25 144.07L679.04 134.78L682.2 144.76Z" stroke-width="1"/>
<path d="M685.05 145.15L681.89 135.17M688.22 145.59L686.64 140.6" fill="none"/>
<path d="M713.5 182.5L677.23 177.6L678.99 168.3L682.18 178.27Z" stroke-width="1"/>
<path d="M685.04 178.65L681.85 168.68M688.21 179.08L686.61 174.1" fill="none"/>
<path d="M713.5 213.5L677.14 209.29L678.73 199.96L682.11 209.87Z" stroke-width="1"/>
<path d="M684.97 210.2L681.59 200.29" fill="none"/>
<path d="M713.5 246.2L676.91 245.5L677.59 236.06L681.91 245.59Z" stroke-width="1"/>
<path d="M713.5 284.9L677.11 288.85L676.59 279.4L682.08 288.31Z" stroke-width="1"/>
<path d="M713.5 328.8L682.28 333.69M682.28 333.69L676.37 325.05M685.19 333.23L679.29 324.59M688.11 332.78L682.2 324.14M691.02 332.32L685.12 323.68M693.94 331.86L690.98 327.54" fill="none"/>
<path d="M713.5 373.9L681.99 376.27M681.99 376.27L676.79 367.18M684.93 376.05L679.73 366.96M687.87 375.83L682.68 366.74M690.81 375.61L685.62 366.52M693.76 375.38L691.16 370.84" fill="none"/>
<path d="M713.5 418.5L681.91 419.38M681.91 419.38L677.15 410.06M684.86 419.3L680.1 409.98M687.81 419.22L683.05 409.9M690.76 419.14L686 409.81M693.71 419.05L691.33 414.39" fill="none"/>
<path d="M713.5 458.5L681.91 459.11M681.91 459.11L677.23 449.74M684.86 459.05L680.17 449.69M687.8 458.99L683.12 449.63M690.75 458.94L686.07 449.57M693.7 458.88L691.36 454.2" fill="none"/>
<path d="M713.5 491.8L681.9 492.19M681.9 492.19L677.29 482.79M684.85 492.15L680.24 482.76M687.8 492.11L683.19 482.72M690.75 492.08L686.14 482.68M693.7 492.04L691.39 487.34" fill="none"/>
<path d="M713.5 519.3L681.92 520.29M681.92 520.29L677.12 510.99M684.86 520.2L680.07 510.9M687.81 520.11L683.02 510.8M690.76 520.01L685.97 510.71M693.71 519.92L691.31 515.27" fill="none"/>
<path d="M713.5 541.8L681.91 541.19M681.91 541.19L677.59 531.66M684.86 541.25L680.54 531.72M687.8 541.31L683.49 531.77M690.75 541.36L686.44 531.83M693.7 541.42L691.54 536.65" fill="none"/>
<path d="M713.5 558.8L681.91 558.19M681.91 558.19L677.59 548.66M684.86 558.25L680.54 548.72M687.8 558.31L683.49 548.77M690.75 558.36L686.44 548.83M693.7 558.42L691.54 553.65" fill="none"/>
<path d="M713.5 573.2L681.92 572.1M681.92 572.1L677.75 562.5M684.87 572.2L680.7 562.6M687.82 572.3L683.65 562.7M690.76 572.41L686.6 562.8M693.71 572.51L691.63 567.71" fill="none"/>
<path d="M713.5 586.2L681.97 584.05M681.97 584.05L678.13 574.32M684.92 584.25L681.07 574.52M687.86 584.45L684.01 574.72M690.8 584.65L686.96 574.92" fill="none"/>
<path d="M713.5 598.2L682.03 595.34M682.03 595.34L678.41 585.52M684.97 595.6L681.34 585.78M687.91 595.87L684.28 586.05M690.84 596.14L687.22 586.32" fill="none"/>
<path d="M713.5 608.5L682.06 605.31M682.06 605.31L678.54 595.45M685 605.6L681.47 595.75M687.93 605.9L684.41 596.05M690.87 606.2L687.34 596.34" fill="none"/>
<path d="M713.5 619.4L682.06 616.21M682.06 616.21L678.54 606.35M685 616.5L681.47 606.65M687.93 616.8L684.41 606.95M690.87 617.1L687.34 607.24" fill="none"/>
<path d="M713.5 629.4L682.06 626.21M682.06 626.21L678.54 616.35M685 626.5L681.47 616.65M687.93 626.8L684.41 616.95M690.87 627.1L687.34 617.24" fill="none"/>
<path d="M713.5 638.8L682.12 635.06M682.12 635.06L678.77 625.14M685.05 635.41L681.7 625.49M687.98 635.76L684.63 625.84M690.91 636.11L687.56 626.19" fill="none"/>
<path d="M713.5 647.4L682.18 643.17M682.18 643.17L678.99 633.2M685.11 643.56L681.92 633.59M688.03 643.96L684.84 633.99M690.96 644.35L687.76 634.38" fill="none"/>
<path d="M713.5 656.2L682.26 651.47M682.26 651.47L679.22 641.46M685.17 651.92L682.14 641.9M688.09 652.36L685.05 642.34M691.01 652.8L687.97 642.78" fill="none"/>
<path d="M713.5 664.4L682.36 659.02M682.36 659.02L679.54 648.94M685.27 659.52L682.44 649.45M688.18 660.03L685.35 649.95M691.08 660.53L688.26 650.45" fill="none"/>
<path d="M713.5 672.4L682.84 664.76M682.84 664.76L680.76 654.5M685.7 665.47L683.62 655.21M688.56 666.18L686.48 655.92M691.43 666.9L689.35 656.64" fill="none"/>
<path d="M713.5 680.3L683.4 670.69M683.4 670.69L681.98 660.32M686.21 671.59L684.79 661.22M689.02 672.49L687.6 662.12M691.83 673.38L690.41 663.01" fill="none"/>
<path d="M713.5 688.2L683.81 677.39M683.81 677.39L682.81 666.97M686.58 678.4L685.58 667.98M689.35 679.41L688.35 668.99M692.12 680.42L691.13 670" fill="none"/>
<path d="M713.5 695.6L683.53 685.57M683.53 685.57L682.26 675.18M686.33 686.51L685.06 676.12M689.13 687.45L687.86 677.06M691.93 688.38L690.66 677.99" fill="none"/>
<path d="M713.5 702.6L683.62 692.31M683.62 692.31L682.44 681.91M686.41 693.27L685.23 682.87M689.2 694.23L688.02 683.83M691.99 695.19L690.81 684.79" fill="none"/>
<path d="M713.5 709.4L683.79 698.64M683.79 698.64L682.77 688.23M686.56 699.65L685.55 689.23M689.33 700.65L688.32 690.23M692.11 701.66L691.6 696.45" fill="none"/>
<path d="M713.5 716.4L683.73 705.8M683.73 705.8L682.66 695.39M686.51 706.79L685.44 696.38M689.29 707.78L688.22 697.37M692.07 708.77L691.53 703.56" fill="none"/>
<path d="M713.5 723.2L683.64 712.86M683.64 712.86L682.48 702.46M686.43 713.83L685.27 703.42M689.21 714.79L688.05 704.39M692 715.76L691.42 710.55" fill="none"/>
<path d="M713.5 730.3L683.41 720.64M683.41 720.64L682.02 710.27M686.22 721.54L684.83 711.17M689.03 722.44L687.63 712.07M691.84 723.35L691.14 718.16" fill="none"/>
<path d="M713.5 737.1L683.45 727.34M683.45 727.34L682.09 716.96M686.25 728.25L684.89 717.87M689.06 729.16L687.7 718.78M691.86 730.07L691.18 724.88" fill="none"/>
<path d="M713.5 743.5L683.45 733.74M683.45 733.74L682.09 723.36M686.25 734.65L684.89 724.27M689.06 735.56L687.7 725.18" fill="none"/>
<path d="M713.5 749.4L683.68 738.96M683.68 738.96L682.55 728.55M686.46 739.93L685.34 729.52M689.24 740.91L688.12 730.5" fill="none"/>
<path d="M713.5 755L683.59 744.82M683.59 744.82L682.37 734.42M686.38 745.77L685.16 735.37M689.17 746.72L688.56 741.52" fill="none"/>
<path d="M713.5 759.7L683.55 749.62M683.55 749.62L682.3 739.23M686.35 750.56L685.1 740.17" fill="none"/>
<path d="M713.5 763.5L683.69 753M683.69 753L682.59 742.6M686.48 753.98L685.37 743.58" fill="none"/>
<path d="M713.5 765.6L683.81 754.79M683.81 754.79L682.81 744.37M686.58 755.8L686.08 750.59" fill="none"/>
<path d="M713.5 766.8L683.88 755.79M683.88 755.79L682.96 745.36" fill="none"/>
<path d="M713.5 767.6L683.94 756.43M683.94 756.43L683.07 746" fill="none"/>
</g>
<path d="M794.5 72.4C794.23 77.2 793.55 91.5 792.9 101.2C792.25 110.9 791.38 120.8 790.6 130.6C789.82 140.4 788.88 151.57 788.2 160C787.52 168.43 787.87 172.97 786.5 181.2C785.13 189.43 781.97 200.78 780 209.4C778.03 218.02 776.07 226.82 774.7 232.9C773.33 238.98 772.45 241.38 771.8 245.9C771.15 250.42 771.5 253.73 770.8 260C770.1 266.27 768.38 275.27 767.6 283.5C766.82 291.73 766.52 299.58 766.1 309.4C765.68 319.22 765.3 333.97 765.1 342.4C764.9 350.83 764.97 351.18 764.9 360C764.83 368.82 764.78 378.63 764.7 395.3C764.62 411.97 764.53 441.38 764.4 460C764.27 478.62 764.1 495.23 763.9 507C763.7 518.77 763.52 521.77 763.2 530.6C762.88 539.43 762.43 550.2 762 560C761.57 569.8 761.13 579.6 760.6 589.4C760.07 599.2 759.38 608.7 758.8 618.8C758.22 628.9 757.33 642.45 757.1 650C756.87 657.55 757.27 659.58 757.4 664.1C757.53 668.62 757.95 672.78 757.9 677.1C757.85 681.42 757.63 684.32 757.1 690C756.57 695.68 755.4 704.53 754.7 711.2C754 717.87 753.38 724.9 752.9 730C752.42 735.1 752.58 738.07 751.8 741.8C751.02 745.53 749.58 749.47 748.2 752.4C746.82 755.33 745.65 757.25 743.5 759.4C741.35 761.55 738.03 763.87 735.3 765.3C732.57 766.73 728.47 767.55 727.1 768" fill="none" stroke="#FF0000" stroke-width="1.2"/>
<text x="713.3" y="65" font-size="12.2" fill="#FF0000" text-anchor="middle" font-weight="bold">0</text>
<text x="713.3" y="799.2" font-size="12.2" fill="#FF0000" text-anchor="middle" font-weight="bold">0</text>
<text x="758.7" y="65" font-size="12.2" fill="#FF0000" text-anchor="middle" font-weight="bold">40</text>
<text x="758.7" y="799.2" font-size="12.2" fill="#FF0000" text-anchor="middle" font-weight="bold">40</text>
<text x="804.3" y="65" font-size="12.2" fill="#FF0000" text-anchor="middle" font-weight="bold">80</text>
<text x="804.3" y="799.2" font-size="12.2" fill="#FF0000" text-anchor="middle" font-weight="bold">80</text>
<text x="850.5" y="65" font-size="12.2" fill="#FF0000" text-anchor="middle" font-weight="bold">120</text>
<text x="850.5" y="799.2" font-size="12.2" fill="#FF0000" text-anchor="middle" font-weight="bold">120</text>
<text x="760.2" y="812.9" font-size="12.8" fill="#FF0000" text-anchor="middle" textLength="56.6" lengthAdjust="spacingAndGlyphs" stroke="#FF0000" stroke-width="0.15" >Speed (kt)</text>
<line x1="804.1" y1="52" x2="804.1" y2="800.8" stroke="#000" stroke-width="1.95" />
<line x1="804.1" y1="781.4" x2="813.6" y2="781.4" stroke="#000" stroke-width="1" />
<text x="824.7" y="787.9" font-size="16.6" fill="#000" text-anchor="start" stroke="#000" stroke-width="0.4" >0</text>
<line x1="804.1" y1="743.3" x2="813.6" y2="743.3" stroke="#000" stroke-width="1" />
<text x="824.7" y="749.8" font-size="16.6" fill="#000" text-anchor="start" stroke="#000" stroke-width="0.4" >2</text>
<line x1="804.1" y1="705.2" x2="813.6" y2="705.2" stroke="#000" stroke-width="1" />
<text x="824.7" y="711.7" font-size="16.6" fill="#000" text-anchor="start" stroke="#000" stroke-width="0.4" >4</text>
<line x1="804.1" y1="666.4" x2="813.6" y2="666.4" stroke="#000" stroke-width="1" />
<text x="824.7" y="672.9" font-size="16.6" fill="#000" text-anchor="start" stroke="#000" stroke-width="0.4" >6</text>
<line x1="804.1" y1="626.5" x2="813.6" y2="626.5" stroke="#000" stroke-width="1" />
<text x="824.7" y="633" font-size="16.6" fill="#000" text-anchor="start" stroke="#000" stroke-width="0.4" >8</text>
<line x1="804.1" y1="586.5" x2="813.6" y2="586.5" stroke="#000" stroke-width="1" />
<text x="824.7" y="593" font-size="16.6" fill="#000" text-anchor="start" stroke="#000" stroke-width="0.4" >10</text>
<line x1="804.1" y1="545.1" x2="813.6" y2="545.1" stroke="#000" stroke-width="1" />
<text x="824.7" y="551.6" font-size="16.6" fill="#000" text-anchor="start" stroke="#000" stroke-width="0.4" >12</text>
<line x1="804.1" y1="504.4" x2="813.6" y2="504.4" stroke="#000" stroke-width="1" />
<text x="824.7" y="510.9" font-size="16.6" fill="#000" text-anchor="start" stroke="#000" stroke-width="0.4" >14</text>
<line x1="804.1" y1="462.4" x2="813.6" y2="462.4" stroke="#000" stroke-width="1" />
<text x="824.7" y="468.9" font-size="16.6" fill="#000" text-anchor="start" stroke="#000" stroke-width="0.4" >16</text>
<line x1="804.1" y1="419.4" x2="813.6" y2="419.4" stroke="#000" stroke-width="1" />
<text x="824.7" y="425.9" font-size="16.6" fill="#000" text-anchor="start" stroke="#000" stroke-width="0.4" >18</text>
<line x1="804.1" y1="376.4" x2="813.6" y2="376.4" stroke="#000" stroke-width="1" />
<text x="824.7" y="382.9" font-size="16.6" fill="#000" text-anchor="start" stroke="#000" stroke-width="0.4" >20</text>
<line x1="804.1" y1="332.3" x2="813.6" y2="332.3" stroke="#000" stroke-width="1" />
<text x="824.7" y="338.8" font-size="16.6" fill="#000" text-anchor="start" stroke="#000" stroke-width="0.4" >22</text>
<line x1="804.1" y1="287.4" x2="813.6" y2="287.4" stroke="#000" stroke-width="1" />
<text x="824.7" y="293.9" font-size="16.6" fill="#000" text-anchor="start" stroke="#000" stroke-width="0.4" >24</text>
<line x1="804.1" y1="242.3" x2="813.6" y2="242.3" stroke="#000" stroke-width="1" />
<text x="824.7" y="248.8" font-size="16.6" fill="#000" text-anchor="start" stroke="#000" stroke-width="0.4" >26</text>
<line x1="804.1" y1="195.3" x2="813.6" y2="195.3" stroke="#000" stroke-width="1" />
<text x="824.7" y="201.8" font-size="16.6" fill="#000" text-anchor="start" stroke="#000" stroke-width="0.4" >28</text>
<line x1="804.1" y1="148.2" x2="813.6" y2="148.2" stroke="#000" stroke-width="1" />
<text x="824.7" y="154.7" font-size="16.6" fill="#000" text-anchor="start" stroke="#000" stroke-width="0.4" >30</text>
<line x1="804.1" y1="100.4" x2="813.6" y2="100.4" stroke="#000" stroke-width="1" />
<text x="824.7" y="106.9" font-size="16.6" fill="#000" text-anchor="start" stroke="#000" stroke-width="0.4" >32</text>
<text transform="translate(774.1 425.6) rotate(90)" font-size="17.8" text-anchor="middle" textLength="140" lengthAdjust="spacingAndGlyphs" stroke="#000" stroke-width="0.35">Height (1000 Feet)</text>
<text x="44.8" y="58.6" font-size="17" fill="#000" text-anchor="end" textLength="27.9" lengthAdjust="spacingAndGlyphs" stroke="#000" stroke-width="0.5" >250</text>
<text x="44.8" y="153.6" font-size="17" fill="#000" text-anchor="end" textLength="27.9" lengthAdjust="spacingAndGlyphs" stroke="#000" stroke-width="0.5" >300</text>
<text x="44.8" y="303.6" font-size="17" fill="#000" text-anchor="end" textLength="27.9" lengthAdjust="spacingAndGlyphs" stroke="#000" stroke-width="0.5" >400</text>
<text x="44.8" y="419.6" font-size="17" fill="#000" text-anchor="end" textLength="27.9" lengthAdjust="spacingAndGlyphs" stroke="#000" stroke-width="0.5" >500</text>
<text x="44.8" y="594.6" font-size="17" fill="#000" text-anchor="end" textLength="27.9" lengthAdjust="spacingAndGlyphs" stroke="#000" stroke-width="0.5" >700</text>
<text x="44.8" y="696.6" font-size="17" fill="#000" text-anchor="end" textLength="27.9" lengthAdjust="spacingAndGlyphs" stroke="#000" stroke-width="0.5" >850</text>
<text x="44.8" y="780.6" font-size="17" fill="#000" text-anchor="end" textLength="36" lengthAdjust="spacingAndGlyphs" stroke="#000" stroke-width="0.5" >1000</text>
<text transform="translate(15 443.8) rotate(-90)" font-size="17" text-anchor="middle" textLength="51.4" lengthAdjust="spacingAndGlyphs" stroke="#000" stroke-width="0.35">P (hPa)</text>
<line x1="86.27" y1="800.5" x2="86.27" y2="809.5" stroke="#383838" stroke-width="1" />
<text x="85.87" y="833" font-size="16" fill="#000" text-anchor="middle" textLength="24.3" lengthAdjust="spacingAndGlyphs" stroke="#000" stroke-width="0.5" >-30</text>
<line x1="168.62" y1="800.5" x2="168.62" y2="809.5" stroke="#383838" stroke-width="1" />
<text x="168.22" y="833" font-size="16" fill="#000" text-anchor="middle" textLength="24.3" lengthAdjust="spacingAndGlyphs" stroke="#000" stroke-width="0.5" >-20</text>
<line x1="250.96" y1="800.5" x2="250.96" y2="809.5" stroke="#383838" stroke-width="1" />
<text x="250.56" y="833" font-size="16" fill="#000" text-anchor="middle" textLength="24.3" lengthAdjust="spacingAndGlyphs" stroke="#000" stroke-width="0.5" >-10</text>
<line x1="333.31" y1="800.5" x2="333.31" y2="809.5" stroke="#383838" stroke-width="1" />
<text x="333.01" y="833" font-size="16" fill="#000" text-anchor="middle" stroke="#000" stroke-width="0.5" >0</text>
<line x1="415.66" y1="800.5" x2="415.66" y2="809.5" stroke="#383838" stroke-width="1" />
<text x="415.36" y="833" font-size="16" fill="#000" text-anchor="middle" stroke="#000" stroke-width="0.5" >10</text>
<line x1="498" y1="800.5" x2="498" y2="809.5" stroke="#383838" stroke-width="1" />
<text x="497.7" y="833" font-size="16" fill="#000" text-anchor="middle" stroke="#000" stroke-width="0.5" >20</text>
<line x1="580.35" y1="800.5" x2="580.35" y2="809.5" stroke="#383838" stroke-width="1" />
<text x="580.05" y="833" font-size="16" fill="#000" text-anchor="middle" stroke="#000" stroke-width="0.5" >30</text>
<line x1="662.7" y1="800.5" x2="662.7" y2="809.5" stroke="#383838" stroke-width="1" />
<text x="662.4" y="833" font-size="16" fill="#000" text-anchor="middle" stroke="#000" stroke-width="0.5" >40</text>
<text x="430.9" y="854.8" font-size="16" fill="#000" text-anchor="middle" textLength="111.4" lengthAdjust="spacingAndGlyphs" stroke="#000" stroke-width="0.5" >Temperature (C)</text>
<text x="56.6" y="49.7" font-size="13.1" fill="#18B60E" text-anchor="middle" textLength="17.2" lengthAdjust="spacingAndGlyphs" stroke="#18B60E" stroke-width="0.3" >0.0</text>
<text x="56.6" y="64.5" font-size="13.1" fill="#000" text-anchor="middle" textLength="17.2" lengthAdjust="spacingAndGlyphs" stroke="#000" stroke-width="0.3" >0.0</text>
<text x="56.6" y="799.6" font-size="13.1" fill="#18B60E" text-anchor="middle" textLength="17.2" lengthAdjust="spacingAndGlyphs" stroke="#18B60E" stroke-width="0.3" >0.0</text>
<text x="56.6" y="812.9" font-size="12.4" fill="#000" text-anchor="middle" textLength="17.2" lengthAdjust="spacingAndGlyphs" stroke="#000" stroke-width="0.3" >0.0</text>
<text x="87.2" y="49.7" font-size="13.1" fill="#18B60E" text-anchor="middle" textLength="17.2" lengthAdjust="spacingAndGlyphs" stroke="#18B60E" stroke-width="0.3" >0.5</text>
<text x="87.2" y="64.5" font-size="13.1" fill="#000" text-anchor="middle" textLength="17.2" lengthAdjust="spacingAndGlyphs" stroke="#000" stroke-width="0.3" >0.5</text>
<text x="87.2" y="799.6" font-size="13.1" fill="#18B60E" text-anchor="middle" textLength="17.2" lengthAdjust="spacingAndGlyphs" stroke="#18B60E" stroke-width="0.3" >0.5</text>
<text x="87.2" y="812.9" font-size="12.4" fill="#000" text-anchor="middle" textLength="17.2" lengthAdjust="spacingAndGlyphs" stroke="#000" stroke-width="0.3" >0.5</text>
<text x="117.6" y="49.7" font-size="13.1" fill="#18B60E" text-anchor="middle" textLength="17.2" lengthAdjust="spacingAndGlyphs" stroke="#18B60E" stroke-width="0.3" >1.0</text>
<text x="117.6" y="64.5" font-size="13.1" fill="#000" text-anchor="middle" textLength="17.2" lengthAdjust="spacingAndGlyphs" stroke="#000" stroke-width="0.3" >1.0</text>
<text x="117.6" y="799.6" font-size="13.1" fill="#18B60E" text-anchor="middle" textLength="17.2" lengthAdjust="spacingAndGlyphs" stroke="#18B60E" stroke-width="0.3" >1.0</text>
<text x="117.6" y="812.9" font-size="12.4" fill="#000" text-anchor="middle" textLength="17.2" lengthAdjust="spacingAndGlyphs" stroke="#000" stroke-width="0.3" >1.0</text>
<text x="133.4" y="798.9" font-size="12.6" fill="#18B60E" text-anchor="start" textLength="101.6" lengthAdjust="spacingAndGlyphs" stroke="#18B60E" stroke-width="0.3" >CloudWater (g/Kg)</text>
<text x="133.4" y="813.2" font-size="12.6" fill="#000" text-anchor="start" textLength="122" lengthAdjust="spacingAndGlyphs" stroke="#000" stroke-width="0.3" >Grid-Scale Cloudiness</text>
<circle cx="29.6" cy="21.5" r="4.5" fill="#000"/>
<text x="39.7" y="29.5" font-size="21.4" fill="#000" text-anchor="start" textLength="123.6" lengthAdjust="spacingAndGlyphs" stroke="#000" stroke-width="0.5" >Paraparaumu</text>
<text x="169.2" y="26.5" font-size="13" fill="#000" text-anchor="start" textLength="140.2" lengthAdjust="spacingAndGlyphs" stroke="#000" stroke-width="0.4" >-40.904°,174.99° (63,16)</text>
<text x="327.4" y="29.5" font-size="21.4" fill="#000" text-anchor="start" textLength="157.6" lengthAdjust="spacingAndGlyphs" stroke="#000" stroke-width="0.5" >Valid 1100 NZDT</text>
<text x="490.2" y="27.6" font-size="15" fill="#000" text-anchor="start" textLength="52.8" lengthAdjust="spacingAndGlyphs" stroke="#000" stroke-width="0.45" >(2200Z)</text>
<text x="549.5" y="29.5" font-size="21.4" fill="#000" text-anchor="start" textLength="153.8" lengthAdjust="spacingAndGlyphs" stroke="#000" stroke-width="0.5" >FRI 29 Aug 2025</text>
<text x="710.6" y="27.6" font-size="15" fill="#000" text-anchor="start" textLength="125.6" lengthAdjust="spacingAndGlyphs" stroke="#000" stroke-width="0.45" >[10hrFcst@1610z]</text>
<text x="431.4" y="48" font-size="13.3" fill="#B00040" text-anchor="middle" textLength="289.8" lengthAdjust="spacingAndGlyphs" stroke="#B00040" stroke-width="0.4" >Plcl=939 Tlcl[C]=7 Shox=1 Pwat[cm]=2 Cape[J]= 452</text>
</svg></body></html>
